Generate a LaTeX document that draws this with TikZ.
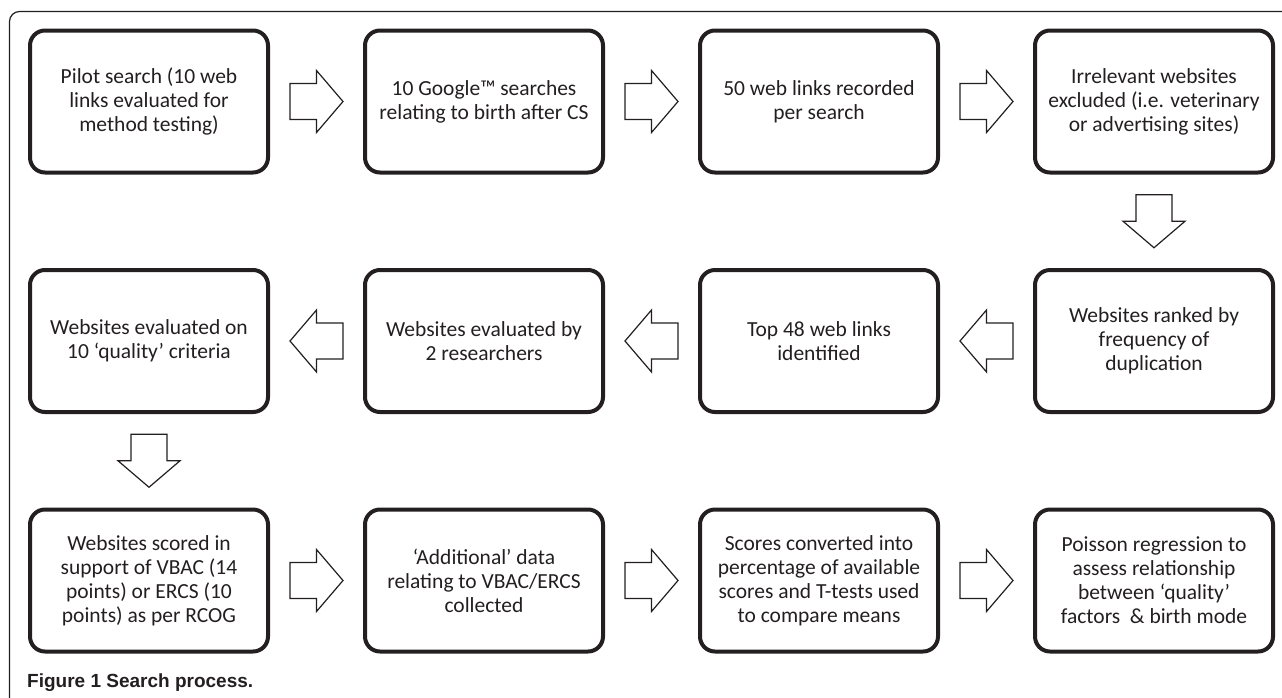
\documentclass[tikz,border=0pt]{standalone}
\usepackage{fontspec}
\setmainfont{Carlito}
\newfontfamily\capfont{Liberation Sans}
\usetikzlibrary{calc}
\definecolor{inkgray}{RGB}{35,31,32}

\begin{document}
\begin{tikzpicture}[x=1pt, y=-1pt,
    stepbox/.style={draw=inkgray, line width=4pt, rounded corners=15pt,
        minimum width=238pt, minimum height=142pt, inner sep=0pt,
        align=center, text=inkgray, font=\fontsize{21.5}{24}\selectfont},
    blockarrow/.style={draw=inkgray, line width=1.2pt, fill=white}]
    \useasboundingbox (0,0) rectangle (1282,697);
    \clip (0,0) rectangle (1282,697);

    % Frame
    \draw[inkgray, line width=1.2pt, rounded corners=10pt] (9.5,720) |- (1300,11.5);

    % Row 1
    \node[stepbox] (pilot) at (149,101.5) {Pilot search (10 web\\links evaluated for\\method testing)};
    \node[stepbox] (google) at (484,101.5) {10 Google™ searches\\relating to birth after CS};
    \node[stepbox] (fifty) at (819,101.5) {50 web links recorded\\per search};
    \node[stepbox] (irrelevant) at (1154,101.5) {Irrelevant websites\\excluded (i.e. veterinary\\or advertising sites)};

    % Row 2
    \node[stepbox] (ranked) at (1154,341) {Websites ranked by\\frequency of\\duplication};
    \node[stepbox] (top) at (819,341) {Top 48 web links\\identified};
    \node[stepbox] (bytwo) at (484,341) {Websites evaluated by\\2 researchers};
    \node[stepbox] (quality) at (149,341) {Websites evaluated on\\10 `quality' criteria};

    % Row 3
    \node[stepbox] (scored) at (149,580.5) {Websites scored in\\support of VBAC (14\\points) or ERCS (10\\points) as per RCOG};
    \node[stepbox] (additional) at (484,580.5) {`Additional' data\\relating to VBAC/ERCS\\collected};
    \node[stepbox] (converted) at (819,580.5) {Scores converted into\\percentage of available\\scores and T-tests used\\to compare means};
    \node[stepbox] (poisson) at (1154,580.5) {Poisson regression to\\assess relationship\\between `quality'\\factors~ \& birth mode};

    % Block arrows
    \foreach \from/\to/\ang in {pilot/google/0, google/fifty/0, fifty/irrelevant/0,
        irrelevant/ranked/-90, ranked/top/180, top/bytwo/180, bytwo/quality/180,
        quality/scored/-90, scored/additional/0, additional/converted/0, converted/poisson/0}
        \draw[blockarrow, shift={($(\from)!0.5!(\to)$)}, rotate=\ang]
            (-26.5,-18) -- (0,-18) -- (0,-31) -- (26.5,0) -- (0,31) -- (0,18) -- (-26.5,18) -- cycle;

    % Caption
    \node[anchor=base west, inner sep=0pt, text=inkgray, font=\capfont\bfseries\fontsize{19}{22}\selectfont]
        (caption) at (27,687) {Figure 1 Search process.};
\end{tikzpicture}
\end{document}
